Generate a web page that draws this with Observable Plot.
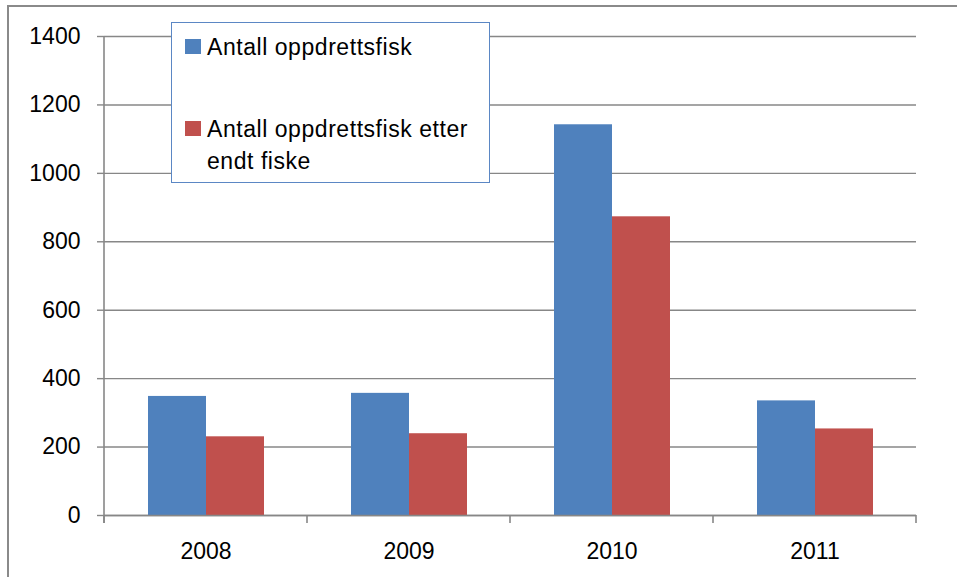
<!DOCTYPE html>
<html>
<head>
<meta charset="utf-8">
<script src="https://cdn.jsdelivr.net/npm/d3@7"></script>
<script src="https://cdn.jsdelivr.net/npm/@observablehq/plot@0.6"></script>
<style>
  html, body { margin: 0; padding: 0; background: #fff; overflow: hidden; width: 957px; height: 577px; }
  #wrap { position: relative; width: 957px; height: 577px; font-family: "Liberation Sans", Arial, sans-serif; }
  #border { position: absolute; left: 7px; top: 5px; width: 1000px; height: 700px; border-top: 2px solid #8a8a8a; border-left: 2px solid #8a8a8a; }
  #chart { position: absolute; left: 0; top: 0; }
  #legend { position: absolute; left: 171px; top: 22px; width: 319px; height: 161px; box-sizing: border-box;
            border: 1.5px solid #5b87c4; background: #fff; font-size: 23px; color: #000; letter-spacing: 0.55px; }
  .sw { position: absolute; left: 13px; width: 16px; height: 15px; }
  .lt { position: absolute; left: 35px; line-height: 32px; white-space: nowrap; }
</style>
</head>
<body>
<div id="wrap">
  <div id="border"></div>
  <div id="chart"></div>
  <div id="legend"></div>
</div>
<script>
const years = ["2008", "2009", "2010", "2011"];
const seriesNames = ["Antall oppdrettsfisk", "Antall oppdrettsfisk etter endt fiske"];
const legendLines = [["Antall oppdrettsfisk"], ["Antall oppdrettsfisk etter", "endt fiske"]];
const fish = [348, 357, 1142, 335];
const fishAfter = [230, 239, 873, 253];
const colors = ["#4F81BD", "#C0504D"];
const yTicks = [0, 200, 400, 600, 800, 1000, 1200, 1400];

const data = years.flatMap((yr, i) => [
  {year: yr, series: seriesNames[0], value: fish[i]},
  {year: yr, series: seriesNames[1], value: fishAfter[i]}
]);

const gray = "#878787";

const chart = Plot.plot({
  width: 957,
  height: 577,
  marginLeft: 103,
  marginRight: 40,
  marginTop: 36,
  marginBottom: 62,
  style: {fontFamily: "'Liberation Sans', Arial, sans-serif", fontSize: "23px", color: "#000", background: "transparent", overflow: "visible"},
  fx: {domain: years, padding: 0, label: null},
  x: {domain: seriesNames, paddingInner: 0, paddingOuter: 0.75, axis: null},
  y: {domain: [0, 1400], ticks: yTicks, label: null},
  color: {domain: seriesNames, range: colors},
  marks: [
    Plot.gridY(yTicks, {stroke: gray, strokeOpacity: 1, strokeWidth: 1.4}),
    Plot.axisY(yTicks, {tickSize: 7, tickPadding: 17, stroke: gray, strokeOpacity: 1, strokeWidth: 1.4, label: null, fontSize: 23, fill: "#000", tickFormat: d => String(d)}),
    Plot.barY(data, {fx: "year", x: "series", y: "value", fill: "series"}),
    Plot.ruleY([0], {stroke: gray, strokeWidth: 1.6}),
    Plot.axisFx({anchor: "bottom", tickSize: 0, tickPadding: 27, label: null, fontSize: 23, fill: "#000"})
  ]
});

document.getElementById("chart").appendChild(chart);

// category boundary ticks and vertical axis line, from the library's scales
const fxS = chart.scale("fx");
const yS = chart.scale("y");
const svg = d3.select(chart);
const g = svg.append("g").attr("stroke", gray).attr("stroke-width", 1.6);
const base = yS.apply(0);
const bounds = years.map(y => fxS.apply(y)).concat([fxS.apply(years[years.length - 1]) + fxS.bandwidth]);
g.selectAll("line.tk").data(bounds).join("line")
  .attr("x1", d => d).attr("x2", d => d)
  .attr("y1", base).attr("y2", base + 8);
g.append("line")
  .attr("x1", bounds[0]).attr("x2", bounds[0])
  .attr("y1", yS.apply(yTicks[yTicks.length - 1])).attr("y2", base + 8);

// legend
const legend = document.getElementById("legend");
const swTops = [16, 98];
const textTops = [8, 90];
seriesNames.forEach((s, i) => {
  const sw = document.createElement("div");
  sw.className = "sw";
  sw.style.top = swTops[i] + "px";
  sw.style.background = colors[i];
  legend.appendChild(sw);
  const t = document.createElement("div");
  t.className = "lt";
  t.style.top = textTops[i] + "px";
  t.innerHTML = legendLines[i].join("<br>");
  legend.appendChild(t);
});
</script>
</body>
</html>
